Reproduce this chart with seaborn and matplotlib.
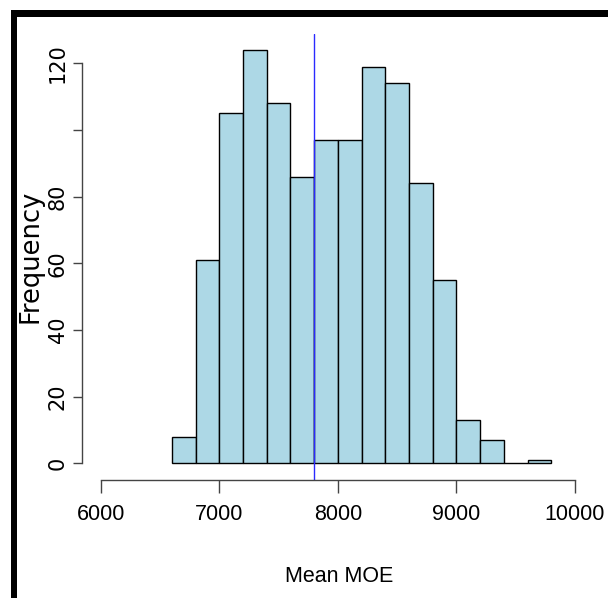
import matplotlib
matplotlib.use("Agg")
import matplotlib.pyplot as plt
import seaborn as sns
import numpy as np
from matplotlib.patches import Rectangle

# ---- data ----
bin_edges = [6600, 6800, 7000, 7200, 7400, 7600, 7800, 8000, 8200,
             8400, 8600, 8800, 9000, 9200, 9400, 9600, 9800]
bin_counts = [8, 61, 105, 124, 108, 86, 97, 97, 119, 114, 84, 55, 13, 7, 0, 1]
mean_moe = 7800
x_ticks = [6000, 7000, 8000, 9000, 10000]
x_tick_labels = ["6000", "7000", "8000", "9000", "10000"]
y_ticks = [0, 20, 40, 60, 80, 100, 120]
y_tick_labels = ["0", "20", "40", "60", "80", "", "120"]
x_label = "Mean MOE"
y_label = "Frequency"

sns.set_style("white")
plt.rcParams["text.color"] = "black"
plt.rcParams["xtick.color"] = "black"
plt.rcParams["ytick.color"] = "black"

W, H = 608, 598
fig = plt.figure(figsize=(W / 100, H / 100), dpi=100)
fig.patch.set_facecolor("white")

left_px, right_px, top_px, bottom_px = 81.7, 594.0, 33.5, 479.8
ax = fig.add_axes([left_px / W, 1 - bottom_px / H,
                   (right_px - left_px) / W, (bottom_px - top_px) / H])
ax.set_facecolor("white")

centers = [(a + b) / 2 for a, b in zip(bin_edges[:-1], bin_edges[1:])]
sns.histplot(x=centers, weights=bin_counts, bins=bin_edges, stat="count",
             color="#ADD8E6", edgecolor="black", linewidth=1.0, alpha=1.0,
             ax=ax)

ax.axvline(mean_moe, color="#2a2aff", lw=1.0)

ax.set_xlim(5840, 10160)
ax.set_ylim(-4.96, 128.96)

for s in ["top", "right"]:
    ax.spines[s].set_visible(False)
for s in ["left", "bottom"]:
    ax.spines[s].set_color("#444444")
    ax.spines[s].set_linewidth(1.0)
ax.spines["left"].set_bounds(0, 120)
ax.spines["bottom"].set_bounds(6000, 10000)

ax.set_xticks(x_ticks)
ax.set_xticklabels(x_tick_labels, family=["Liberation Sans Narrow", "Liberation Sans"],
                   fontsize=15.5, color="black")
ax.set_yticks(y_ticks)
ax.set_yticklabels(y_tick_labels, family=["DejaVu Sans"], fontsize=15,
                   rotation=90, va="center", color="black")
ax.tick_params(axis="x", direction="out", length=9, width=1.0, color="#444444",
               pad=8.5, bottom=True)
ax.tick_params(axis="y", direction="out", length=6.8, width=1.0, color="#444444",
               pad=3.3, left=True)
ax.set_xlabel("")
ax.set_ylabel("")

fig.text(339 / W, 1 - 582 / H, x_label, ha="center", va="baseline",
         family=["Liberation Sans Narrow", "Liberation Sans"], fontsize=15.5,
         color="black")
fig.text(37 / W, 1 - 256.5 / H, y_label, ha="center", va="baseline",
         rotation=90, rotation_mode="anchor", family=["DejaVu Sans"], fontsize=18.5,
         color="black")

# thick black frame (top and left edges of the original image border)
fig.add_artist(Rectangle((11 / W, 1 - 17.3 / H), (W - 11) / W, 7.3 / H,
                         transform=fig.transFigure, facecolor="black",
                         edgecolor="none"))
fig.add_artist(Rectangle((11 / W, 0), 6.3 / W, 1 - 10 / H,
                         transform=fig.transFigure, facecolor="black",
                         edgecolor="none"))

fig.savefig("out.png", dpi=100)
